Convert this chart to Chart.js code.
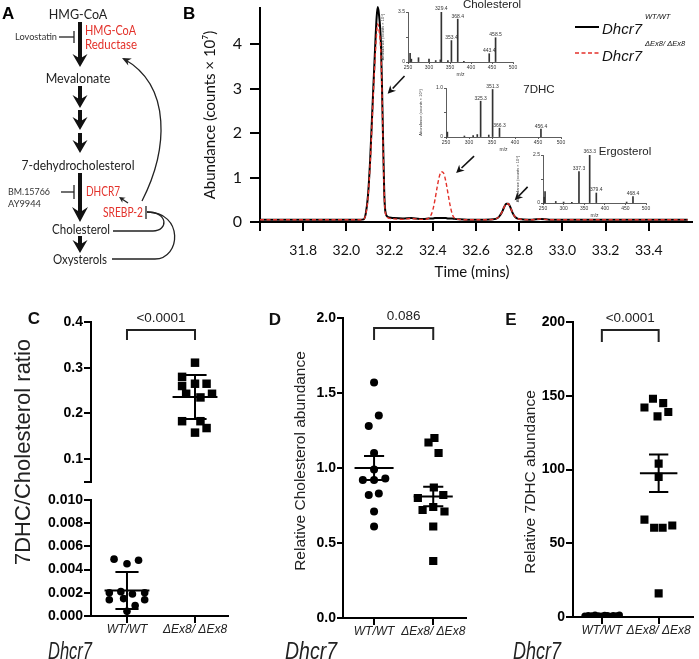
<!DOCTYPE html>
<html>
<head>
<meta charset="utf-8">
<script src="https://cdn.jsdelivr.net/npm/chart.js@4.4.1/dist/chart.umd.min.js"></script>
<style>
  html, body { margin: 0; padding: 0; background: #fff; }
  #fig { position: relative; width: 699px; height: 659px; overflow: hidden; background: #fff; }
  #fig canvas { position: absolute; }
</style>
</head>
<body>
<div id="fig"></div>
<script>
// ---- B: GC-MS trace (time in min, abundance in counts x 10^7) ----
const times = [31.60, 31.80, 32.00, 32.06, 32.08, 32.09, 32.10, 32.11, 32.12, 32.13,
  32.14, 32.145, 32.15, 32.16, 32.165, 32.17, 32.175, 32.18, 32.19, 32.20,
  32.22, 32.26, 32.30, 32.34, 32.36, 32.38, 32.39, 32.40, 32.41, 32.42,
  32.43, 32.44, 32.45, 32.46, 32.47, 32.48, 32.49, 32.50, 32.52, 32.56,
  32.62, 32.68, 32.70, 32.71, 32.72, 32.73, 32.74, 32.75, 32.76, 32.77,
  32.78, 32.79, 32.81, 32.86, 32.90, 32.94, 33.10, 33.30, 33.58];
const wtAbund = [0.05, 0.05, 0.05, 0.05, 0.06, 0.20, 0.60, 1.40, 2.50, 3.60,
  4.60, 4.83, 4.70, 4.00, 3.00, 1.80, 0.70, 0.25, 0.12, 0.10,
  0.09, 0.08, 0.09, 0.07, 0.07, 0.08, 0.08, 0.08, 0.09, 0.09,
  0.09, 0.09, 0.09, 0.09, 0.08, 0.08, 0.08, 0.07, 0.06, 0.05,
  0.05, 0.06, 0.09, 0.14, 0.22, 0.33, 0.41, 0.41, 0.32, 0.20,
  0.12, 0.08, 0.06, 0.05, 0.07, 0.05, 0.05, 0.05, 0.05];
const koAbund = [0.05, 0.05, 0.05, 0.05, 0.06, 0.18, 0.55, 1.30, 2.35, 3.40,
  4.25, 4.45, 4.35, 3.75, 2.85, 1.70, 0.65, 0.22, 0.10, 0.08,
  0.07, 0.06, 0.08, 0.06, 0.06, 0.08, 0.14, 0.27, 0.50, 0.78,
  1.02, 1.13, 1.10, 0.92, 0.65, 0.38, 0.18, 0.09, 0.06, 0.05,
  0.05, 0.06, 0.09, 0.14, 0.22, 0.33, 0.41, 0.41, 0.32, 0.20,
  0.12, 0.08, 0.06, 0.05, 0.07, 0.05, 0.05, 0.05, 0.05];
const bXTicks = [31.6, 31.8, 32.0, 32.2, 32.4, 32.6, 32.8, 33.0, 33.2, 33.4];
const bXLabels = ['', '31.8', '32.0', '32.2', '32.4', '32.6', '32.8', '33.0', '33.2', '33.4'];
const bYTicks = [0, 1, 2, 3, 4];
// arrows pointing at the peaks: [fromTime, fromAbund, toTime, toAbund]
const peakArrows = [[32.269, 3.28, 32.191, 2.88], [32.591, 1.48, 32.508, 1.10], [32.839, 0.79, 32.779, 0.49]];

// ---- B insets: mass spectra ----
const specTicks = [250, 300, 350, 400, 450, 500];
const cholMz = [255, 258, 275, 300, 316, 327, 329.4, 345, 353.4, 368.4, 383, 443.4, 458.5];
const cholInt = [0.6, 0.2, 0.3, 0.2, 0.1, 0.15, 3.5, 0.1, 1.5, 3.0, 0.05, 0.58, 1.7];
const cholPeaks = ['329.4', '353.4', '368.4', '443.4', '458.5'];
const cholYTicks = [0, 1.75, 3.5];
const cholYLabels = ['0', '', '3.5'];
const dhcMz = [253, 290, 309, 318, 325.3, 343, 351.3, 366.3, 456.4];
const dhcInt = [0.1, 0.02, 0.03, 0.05, 0.73, 0.04, 0.97, 0.18, 0.16];
const dhcPeaks = ['325.3', '351.3', '366.3', '456.4'];
const dhcYTicks = [0, 0.5, 1.0];
const dhcYLabels = ['0', '', '1.0'];
const ergMz = [253, 255, 281, 300, 320, 337.3, 363.3, 379.4, 453, 468.4];
const ergInt = [0.3, 0.6, 0.08, 0.05, 0.04, 1.64, 2.5, 0.52, 0.05, 0.34];
const ergPeaks = ['337.3', '363.3', '379.4', '468.4'];
const ergYTicks = [0, 1.25, 2.5];
const ergYLabels = ['0', '', '2.5'];

// ---- C, D, E: per-animal values (jitter = horizontal offset inside group) ----
const groupLabels = ['WT/WT', 'ΔEx8/ ΔEx8'];

const cWt = [0.0049, 0.0045, 0.0048, 0.0020, 0.0021, 0.0019, 0.0020, 0.0014, 0.0015, 0.0014, 0.0009, 0.0004];
const cWtJit = [-0.19, 0, 0.17, -0.26, -0.09, 0.08, 0.26, -0.26, -0.05, 0.26, 0.12, 0];
const cKo = [0.311, 0.280, 0.260, 0.265, 0.265, 0.243, 0.235, 0.243, 0.183, 0.183, 0.158, 0.168];
const cKoJit = [0, -0.19, -0.19, 0, 0.17, -0.13, 0.08, 0.25, -0.19, 0.08, 0, 0.17];
const cMean = [0.0022, 0.236];
const cErr = [0.0016, 0.048];
const cUpTicks = [0.05, 0.1, 0.2, 0.3, 0.4];
const cUpLabels = ['', '0.1', '0.2', '0.3', '0.4'];
const cLowTicks = [0, 0.002, 0.004, 0.006, 0.008, 0.010];
const cLowLabels = ['0.000', '0.002', '0.004', '0.006', '0.008', '0.010'];

const dWt = [1.57, 1.35, 1.28, 1.10, 0.99, 0.92, 0.92, 0.93, 0.82, 0.83, 0.71, 0.61];
const dWtJit = [0, 0.08, -0.09, 0, 0, -0.19, 0, 0.19, -0.09, 0.08, 0, 0];
const dKo = [1.17, 1.20, 1.10, 0.80, 0.87, 0.82, 0.72, 0.74, 0.71, 0.61, 0.38];
const dKoJit = [-0.08, 0.02, 0.09, -0.26, 0.01, 0.17, -0.18, 0, 0.19, 0, 0];
const dMean = [1.0, 0.81];
const dErr = [0.08, 0.065];
const dTicks = [0, 0.5, 1.0, 1.5, 2.0];
const dLabels = ['0.0', '0.5', '1.0', '1.5', '2.0'];

const eWt = [0.6, 1.1, 0.8, 1.3, 0.9, 0.7, 1.2, 1.0, 0.5, 1.1, 0.9, 1.4];
const eWtJit = [-0.30, -0.24, -0.18, -0.12, -0.06, 0, 0.05, 0.10, 0.15, 0.20, 0.26, 0.31];
const eKo = [142, 148, 145, 136, 139, 104, 95, 66, 60.5, 60.5, 62, 16];
const eKoJit = [-0.25, -0.10, 0.08, -0.02, 0.17, 0, 0, -0.25, -0.08, 0.07, 0.24, 0];
const eMean = [1.0, 97.5];
const eErr = [0.1, 12.7];
const eTicks = [0, 50, 100, 150, 200];
const eLabels = ['0', '50', '100', '150', '200'];

// ---------------------------------------------------------------
const RED = '#e3312a';
const ARIAL = '"Liberation Sans", Arial, sans-serif';
const MYR = 'Lato, "Open Sans", sans-serif';
const fig = document.getElementById('fig');

function makeCanvas(left, top, w, h) {
  const c = document.createElement('canvas');
  c.width = w; c.height = h;
  c.style.left = left + 'px'; c.style.top = top + 'px';
  c.style.width = w + 'px'; c.style.height = h + 'px';
  fig.appendChild(c);
  return c;
}

function noPad(s) { s.paddingTop = 0; s.paddingBottom = 0; s.paddingLeft = 0; s.paddingRight = 0; }
function fixW(w) { return s => { s.width = w; noPad(s); }; }
function fixH(h) { return s => { s.height = h; noPad(s); }; }
function setTicks(list) { return s => { s.ticks = list.map(v => ({ value: v })); }; }

function drawText(ctx, s, x, y, o) {
  ctx.save();
  ctx.font = o.font;
  ctx.fillStyle = o.color || '#000';
  ctx.textAlign = o.align || 'center';
  ctx.textBaseline = o.base || 'middle';
  ctx.translate(x, y);
  if (o.rot) ctx.rotate(o.rot);
  if (o.width) ctx.scale(o.width / ctx.measureText(s).width, 1);
  ctx.fillText(s, 0, 0);
  ctx.restore();
}

function arrowHead(ctx, tx, ty, fx, fy, len, hw) {
  const a = Math.atan2(ty - fy, tx - fx);
  ctx.beginPath();
  ctx.moveTo(tx, ty);
  ctx.lineTo(tx - len * Math.cos(a) + hw * Math.sin(a), ty - len * Math.sin(a) - hw * Math.cos(a));
  ctx.lineTo(tx - len * 0.7 * Math.cos(a), ty - len * 0.7 * Math.sin(a));
  ctx.lineTo(tx - len * Math.cos(a) - hw * Math.sin(a), ty - len * Math.sin(a) + hw * Math.cos(a));
  ctx.closePath();
  ctx.fill();
}

// ---------------- A: pathway diagram ----------------
(function drawPathway() {
  const c = makeCanvas(0, 0, 200, 290);
  const ctx = c.getContext('2d');
  const label = (s, x, y, size, color, align, w) =>
    drawText(ctx, s, x, y, { font: size + 'px ' + MYR, color: color, align: align, width: w });
  const line = (x1, y1, x2, y2) => { ctx.beginPath(); ctx.moveTo(x1, y1); ctx.lineTo(x2, y2); ctx.stroke(); };
  const blockArrow = (x, y1, y2, hw, hh) => {
    ctx.fillStyle = '#111';
    ctx.fillRect(x - 2, y1, 4, y2 - y1 - hh * 0.6);
    ctx.beginPath();
    ctx.moveTo(x, y2);
    ctx.lineTo(x - hw, y2 - hh);
    ctx.lineTo(x, y2 - hh * 0.65);
    ctx.lineTo(x + hw, y2 - hh);
    ctx.closePath();
    ctx.fill();
  };

  drawText(ctx, 'A', 2, 14, { font: 'bold 17px ' + ARIAL, align: 'left' });
  drawText(ctx, 'B', 183, 14, { font: 'bold 17px ' + ARIAL, align: 'left' });

  label('HMG-CoA', 78, 15, 12.5, '#222');
  label('HMG-CoA', 85, 31, 12.5, RED, 'left', 51);
  label('Reductase', 85, 45, 12.5, RED, 'left', 52);
  label('Lovostatin', 57, 37, 10, '#333', 'right', 42);
  label('Mevalonate', 78, 79, 12.5, '#222');
  label('7-dehydrocholesterol', 78, 166, 12.5, '#222', 'center', 113);
  label('BM.15766', 8, 192, 10, '#333', 'left', 42);
  label('AY9944', 8, 204, 10, '#333', 'left', 33);
  label('DHCR7', 86, 192, 12.5, RED, 'left', 34);
  label('SREBP-2', 103, 213, 12.5, RED, 'left', 40);
  label('Cholesterol', 81, 230, 12.5, '#222', 'center', 58);
  label('Oxysterols', 80, 260, 12.5, '#222', 'center', 54);

  blockArrow(80, 22, 67, 7.5, 13);
  blockArrow(80, 86, 108, 7.5, 13);
  blockArrow(80, 110, 130, 7.5, 13);
  blockArrow(80, 133, 153, 7.5, 13);
  blockArrow(80, 173, 222, 8, 15);
  blockArrow(80, 236, 253, 7.5, 13);

  ctx.strokeStyle = '#222';
  ctx.lineWidth = 1.3;
  line(59, 37, 74, 37); line(74, 31, 74, 43);
  line(61, 192, 74, 192); line(74, 185, 74, 199);
  line(146, 206, 146, 219);

  ctx.fillStyle = '#222';
  ctx.beginPath(); ctx.moveTo(142, 201); ctx.bezierCurveTo(168, 150, 172, 86, 124, 59); ctx.stroke();
  arrowHead(ctx, 122, 58, 140, 67, 9, 4);
  line(128, 203, 122, 199);
  arrowHead(ctx, 119, 197, 128, 203, 6, 3);

  ctx.beginPath(); ctx.moveTo(113, 231); ctx.lineTo(153, 231);
  ctx.bezierCurveTo(168, 231, 169, 212, 147, 212); ctx.stroke();
  ctx.beginPath(); ctx.moveTo(112, 259); ctx.lineTo(155, 259);
  ctx.bezierCurveTo(181, 259, 184, 212, 147, 212); ctx.stroke();
})();

// ---------------- B: chromatogram ----------------
const pts = (xs, ys) => xs.map((x, i) => ({ x: x, y: ys[i] }));
const axisLook = (len, lw) => ({
  grid: { display: true, drawOnChartArea: false, drawTicks: true, tickLength: len, color: '#000', lineWidth: lw },
  border: { display: true, color: '#000', width: lw }
});

new Chart(makeCanvas(200, 0, 499, 290), {
  type: 'line',
  data: {
    datasets: [
      { label: 'ΔEx8/ ΔEx8', data: pts(times, koAbund), borderColor: RED, borderWidth: 1.4,
        borderDash: [4, 2.5], pointRadius: 0, cubicInterpolationMode: 'monotone', clip: false },
      { label: 'WT/WT', data: pts(times, wtAbund), borderColor: '#000', borderWidth: 2,
        pointRadius: 0, cubicInterpolationMode: 'monotone', clip: false }
    ]
  },
  options: {
    responsive: false, animation: false, events: [],
    layout: { padding: { left: 0, top: 8, right: 7, bottom: 0 } },
    plugins: { legend: { display: false }, tooltip: { enabled: false } },
    scales: {
      x: Object.assign({
        type: 'linear', min: 31.6, max: 33.6,
        afterBuildTicks: setTicks(bXTicks), afterFit: fixH(68),
        ticks: { callback: (v, i) => bXLabels[i], font: { family: MYR, size: 14 }, color: '#111',
          padding: 11, maxRotation: 0, autoSkip: false }
      }, axisLook(9, 2)),
      y: Object.assign({
        min: 0, max: 4.81,
        afterBuildTicks: setTicks(bYTicks), afterFit: fixW(60),
        ticks: { font: { family: MYR, size: 16 }, color: '#111', padding: 8, autoSkip: false }
      }, axisLook(10, 2))
    }
  },
  plugins: [{
    id: 'bDeco',
    afterDraw(chart) {
      const ctx = chart.ctx, xs = chart.scales.x, ys = chart.scales.y;
      drawText(ctx, 'Abundance (counts × 10⁷)', 10, 115, { font: '15px ' + MYR, color: '#111', rot: -Math.PI / 2 });
      drawText(ctx, 'Time (mins)', 272, 272, { font: '15px ' + MYR, color: '#111' });
      drawText(ctx, 'Cholesterol', 292, 5, { font: '11.5px ' + ARIAL, color: '#222' });
      drawText(ctx, '7DHC', 339, 90, { font: '11.5px ' + ARIAL, color: '#222' });
      drawText(ctx, 'Ergosterol', 425, 152, { font: '11.5px ' + ARIAL, color: '#222' });

      ctx.save();
      ctx.strokeStyle = '#111'; ctx.fillStyle = '#111'; ctx.lineWidth = 1.6;
      peakArrows.forEach(a => {
        const x0 = xs.getPixelForValue(a[0]), y0 = ys.getPixelForValue(a[1]);
        const x1 = xs.getPixelForValue(a[2]), y1 = ys.getPixelForValue(a[3]);
        ctx.beginPath(); ctx.moveTo(x0, y0); ctx.lineTo(x1 + (x0 - x1) * 0.3, y1 + (y0 - y1) * 0.3); ctx.stroke();
        arrowHead(ctx, x1, y1, x0, y0, 8, 4);
      });

      // legend
      const ds = chart.data.datasets;
      const rows = [[ds[1], 27, 34, 19], [ds[0], 53, 61, 46]];
      rows.forEach(r => {
        const d = r[0];
        ctx.strokeStyle = d.borderColor; ctx.lineWidth = d.borderWidth;
        ctx.setLineDash(d.borderDash || []);
        ctx.beginPath(); ctx.moveTo(375, r[1]); ctx.lineTo(399, r[1]); ctx.stroke();
        ctx.setLineDash([]);
        ctx.font = 'italic 15px ' + ARIAL;
        ctx.fillStyle = '#111'; ctx.textAlign = 'left'; ctx.textBaseline = 'alphabetic';
        ctx.fillText('Dhcr7', 402, r[2]);
        const w = ctx.measureText('Dhcr7').width;
        ctx.font = 'italic 7.5px ' + ARIAL;
        ctx.fillText(d.label, 405 + w, r[3]);
      });
      ctx.restore();
    }
  }]
});

// ---------------- B insets ----------------
function spectrum(left, top, plotW, plotH, mz, ints, peaks, yTicks, yLabels) {
  const W = 28 + plotW + 8, H = 10 + plotH + 16;
  new Chart(makeCanvas(left, top, W, H), {
    type: 'bar',
    data: { datasets: [{ data: pts(mz, ints), backgroundColor: '#333', barThickness: 1, borderWidth: 0 }] },
    options: {
      responsive: false, animation: false, events: [],
      layout: { padding: { left: 0, top: 10, right: 8, bottom: 0 } },
      plugins: { legend: { display: false }, tooltip: { enabled: false } },
      scales: {
        x: {
          type: 'linear', min: 250, max: 500, offset: false,
          afterBuildTicks: setTicks(specTicks), afterFit: fixH(16),
          ticks: { font: { family: ARIAL, size: 5 }, color: '#333', padding: 1, maxRotation: 0, autoSkip: false },
          title: { display: true, text: 'm/z', font: { family: ARIAL, size: 5 }, color: '#333', padding: 0 },
          grid: { offset: false, drawOnChartArea: false, tickLength: 2, color: '#333', lineWidth: 0.8 },
          border: { color: '#333', width: 0.8 }
        },
        y: {
          min: 0, max: yTicks[yTicks.length - 1],
          afterBuildTicks: setTicks(yTicks), afterFit: fixW(28),
          ticks: { callback: (v, i) => yLabels[i], font: { family: ARIAL, size: 5 }, color: '#333', padding: 1, autoSkip: false },
          title: { display: true, text: 'Abundance (counts × 10⁶)', font: { family: ARIAL, size: 4 }, color: '#333', padding: 0 },
          grid: { drawOnChartArea: false, tickLength: 2, color: '#333', lineWidth: 0.8 },
          border: { color: '#333', width: 0.8 }
        }
      }
    },
    plugins: [{
      id: 'peakLabels',
      afterDatasetsDraw(chart) {
        const ctx = chart.ctx, xs = chart.scales.x, ys = chart.scales.y;
        peaks.forEach(p => {
          const i = mz.indexOf(parseFloat(p));
          drawText(ctx, p, xs.getPixelForValue(mz[i]), ys.getPixelForValue(ints[i]) - 3,
            { font: '5px ' + ARIAL, color: '#333' });
        });
      }
    }]
  });
}
spectrum(380, 2, 105, 50, cholMz, cholInt, cholPeaks, cholYTicks, cholYLabels);
spectrum(418, 78, 115, 49, dhcMz, dhcInt, dhcPeaks, dhcYTicks, dhcYLabels);
spectrum(515, 145, 103, 48, ergMz, ergInt, ergPeaks, ergYTicks, ergYLabels);

// ---------------- C, D, E: dot plots ----------------
const groupPoints = (vals, jit, g) => vals.map((v, i) => ({ x: g + jit[i], y: v }));
function errorBar(g, mean, err) {
  const hw = 0.33, cw = 0.17;
  return [
    { x: g - hw, y: mean }, { x: g + hw, y: mean }, { x: g, y: null },
    { x: g, y: mean - err }, { x: g, y: mean + err }, { x: g, y: null },
    { x: g - cw, y: mean + err }, { x: g + cw, y: mean + err }, { x: g, y: null },
    { x: g - cw, y: mean - err }, { x: g + cw, y: mean - err }
  ];
}
const wtSet = (data, r) => ({ data: data, pointStyle: 'circle', pointRadius: r, backgroundColor: '#000', borderWidth: 0 });
const koSet = (data, r) => ({ data: data, pointStyle: 'rect', pointRadius: r, backgroundColor: '#000', borderWidth: 0 });
const barSet = data => ({ data: data, showLine: true, pointRadius: 0, borderColor: '#000', borderWidth: 2, spanGaps: false });

function bracket(ctx, chart, top, bottom, text) {
  const xs = chart.scales.x;
  const x1 = xs.getPixelForValue(1), x2 = xs.getPixelForValue(2);
  ctx.save();
  ctx.strokeStyle = '#222'; ctx.lineWidth = 2;
  ctx.beginPath(); ctx.moveTo(x1, bottom); ctx.lineTo(x1, top); ctx.lineTo(x2, top); ctx.lineTo(x2, bottom); ctx.stroke();
  ctx.restore();
  drawText(ctx, text, (x1 + x2) / 2, top - 12, { font: '13.5px ' + ARIAL, color: '#222' });
}

function dotChart(o) {
  return new Chart(makeCanvas(o.left, 300, o.w, 359), {
    type: 'scatter',
    data: { datasets: o.datasets },
    options: {
      responsive: false, animation: false, events: [],
      layout: { padding: o.pad },
      plugins: { legend: { display: false }, tooltip: { enabled: false } },
      scales: {
        x: Object.assign({
          type: 'linear', min: o.xMin, max: o.xMax, display: o.showX,
          afterBuildTicks: setTicks([1, 2]), afterFit: fixH(o.xH || 0),
          ticks: { callback: (v, i) => groupLabels[i], font: { family: ARIAL, size: 12, style: 'italic' },
            color: '#222', padding: -1, maxRotation: 0, autoSkip: false }
        }, axisLook(7, 2)),
        y: Object.assign({
          min: o.yTicks[0], max: o.yTicks[o.yTicks.length - 1],
          afterBuildTicks: setTicks(o.yTicks), afterFit: fixW(o.yW),
          ticks: { callback: (v, i) => o.yLabels[i], font: { family: ARIAL, size: 14, weight: 'bold' },
            color: '#000', padding: 1, autoSkip: false }
        }, axisLook(o.tickLen || 7, 2))
      }
    },
    plugins: [{ id: 'deco', afterDraw(chart) { if (o.deco) o.deco(chart.ctx, chart); } }]
  });
}

const letterFont = 'bold 17px ' + ARIAL;
const geneLabel = (ctx, x, w) =>
  drawText(ctx, 'Dhcr7', x, 359, { font: 'italic 23px ' + ARIAL, color: '#222', align: 'left', base: 'alphabetic', width: w });

// C upper (mutant) segment
dotChart({
  left: 0, w: 235, pad: { left: 0, top: 22, right: 7, bottom: 177 },
  xMin: 0.471, xMax: 2.485, showX: false, yW: 91,
  yTicks: cUpTicks, yLabels: cUpLabels,
  datasets: [koSet(groupPoints(cKo, cKoJit, 2), 6), barSet(errorBar(2, cMean[1], cErr[1]))],
  deco: (ctx, chart) => {
    drawText(ctx, 'C', 34, 19, { font: letterFont, color: '#111' });
    bracket(ctx, chart, 30, 40, '<0.0001');
    drawText(ctx, '7DHC/Cholesterol ratio', 24, 152, { font: '22px ' + ARIAL, color: '#222', rot: -Math.PI / 2 });
    geneLabel(ctx, 48, 44);
  }
});
// C lower (wild-type) segment
dotChart({
  left: 0, w: 235, pad: { left: 0, top: 200, right: 7, bottom: 0 },
  xMin: 0.471, xMax: 2.485, showX: true, xH: 43, yW: 91,
  yTicks: cLowTicks, yLabels: cLowLabels,
  datasets: [wtSet(groupPoints(cWt, cWtJit, 1), 3.8), barSet(errorBar(1, cMean[0], cErr[0]))]
});

// D
dotChart({
  left: 240, w: 232, pad: { left: 0, top: 18, right: 2, bottom: 0 },
  xMin: 0.475, xMax: 2.557, showX: true, xH: 41, yW: 103, tickLen: 6,
  yTicks: dTicks, yLabels: dLabels,
  datasets: [
    wtSet(groupPoints(dWt, dWtJit, 1), 4), koSet(groupPoints(dKo, dKoJit, 2), 5.8),
    barSet(errorBar(1, dMean[0], dErr[0])), barSet(errorBar(2, dMean[1], dErr[1]))
  ],
  deco: (ctx, chart) => {
    drawText(ctx, 'D', 35, 20, { font: letterFont, color: '#111' });
    bracket(ctx, chart, 28, 40, '0.086');
    drawText(ctx, 'Relative Cholesterol abundance', 61, 161, { font: '15.5px ' + ARIAL, color: '#222', rot: -Math.PI / 2 });
    geneLabel(ctx, 45, 52);
  }
});

// E
dotChart({
  left: 470, w: 229, pad: { left: 0, top: 22, right: 1, bottom: 0 },
  xMin: 0.492, xMax: 2.61, showX: true, xH: 42, yW: 103,
  yTicks: eTicks, yLabels: eLabels,
  datasets: [
    wtSet(groupPoints(eWt, eWtJit, 1), 3.5), koSet(groupPoints(eKo, eKoJit, 2), 5.7),
    barSet(errorBar(1, eMean[0], eErr[0])), barSet(errorBar(2, eMean[1], eErr[1]))
  ],
  deco: (ctx, chart) => {
    drawText(ctx, 'E', 41, 20, { font: letterFont, color: '#111' });
    bracket(ctx, chart, 30, 42, '<0.0001');
    drawText(ctx, 'Relative 7DHC abundance', 61, 182, { font: '15.5px ' + ARIAL, color: '#222', rot: -Math.PI / 2 });
    geneLabel(ctx, 43, 48);
  }
});
</script>
</body>
</html>
